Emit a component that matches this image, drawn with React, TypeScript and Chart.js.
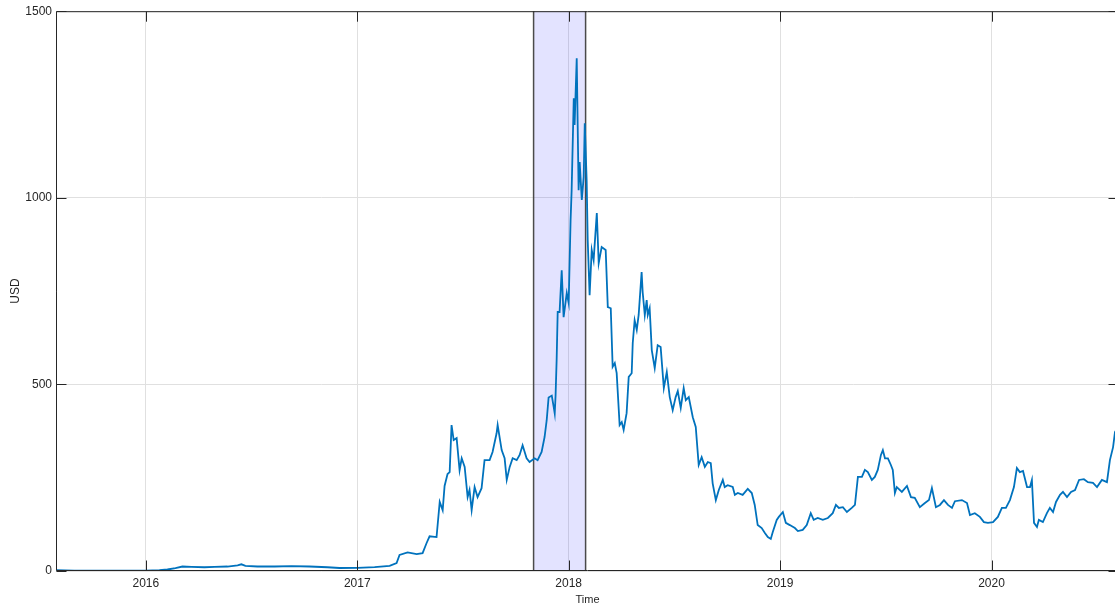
import React, { useEffect, useRef } from "react";
import { Chart, registerables } from "chart.js";

Chart.register(...registerables);

// Time in decimal years, price in USD
const dates: number[] = [
  2015.577, 2015.662, 2015.780, 2015.899, 2015.998, 2016.064, 2016.102, 2016.140, 2016.173, 2016.216,
  2016.277, 2016.325, 2016.386, 2016.434, 2016.452, 2016.471, 2016.528, 2016.609, 2016.689, 2016.774,
  2016.859, 2016.916, 2017.001, 2017.082, 2017.153, 2017.186, 2017.200, 2017.238, 2017.281, 2017.309,
  2017.328, 2017.342, 2017.375, 2017.390, 2017.404, 2017.413, 2017.427, 2017.437, 2017.446, 2017.456,
  2017.470, 2017.484, 2017.494, 2017.508, 2017.522, 2017.531, 2017.541, 2017.555, 2017.569, 2017.588,
  2017.602, 2017.626, 2017.640, 2017.659, 2017.664, 2017.683, 2017.697, 2017.707, 2017.721, 2017.735,
  2017.754, 2017.768, 2017.782, 2017.801, 2017.815, 2017.839, 2017.853, 2017.872, 2017.886, 2017.896,
  2017.905, 2017.920, 2017.929, 2017.934, 2017.938, 2017.943, 2017.948, 2017.957, 2017.967, 2017.976,
  2017.991, 2018.000, 2018.009, 2018.014, 2018.024, 2018.028, 2018.038, 2018.047, 2018.052, 2018.062,
  2018.071, 2018.076, 2018.085, 2018.090, 2018.099, 2018.109, 2018.118, 2018.133, 2018.142, 2018.156,
  2018.175, 2018.185, 2018.199, 2018.208, 2018.218, 2018.227, 2018.241, 2018.251, 2018.260, 2018.274,
  2018.284, 2018.298, 2018.303, 2018.312, 2018.322, 2018.331, 2018.345, 2018.350, 2018.360, 2018.369,
  2018.374, 2018.383, 2018.393, 2018.407, 2018.421, 2018.435, 2018.450, 2018.464, 2018.478, 2018.492,
  2018.506, 2018.516, 2018.530, 2018.544, 2018.554, 2018.568, 2018.587, 2018.601, 2018.615, 2018.629,
  2018.644, 2018.658, 2018.672, 2018.681, 2018.696, 2018.710, 2018.729, 2018.738, 2018.752, 2018.776,
  2018.786, 2018.800, 2018.823, 2018.847, 2018.866, 2018.880, 2018.894, 2018.913, 2018.928, 2018.942,
  2018.956, 2018.965, 2018.984, 2018.994, 2019.013, 2019.027, 2019.046, 2019.070, 2019.084, 2019.107,
  2019.126, 2019.145, 2019.159, 2019.178, 2019.202, 2019.226, 2019.249, 2019.264, 2019.278, 2019.297,
  2019.316, 2019.339, 2019.354, 2019.368, 2019.387, 2019.401, 2019.415, 2019.434, 2019.448, 2019.462,
  2019.477, 2019.486, 2019.496, 2019.510, 2019.524, 2019.533, 2019.543, 2019.552, 2019.576, 2019.600,
  2019.619, 2019.637, 2019.661, 2019.685, 2019.704, 2019.718, 2019.737, 2019.756, 2019.775, 2019.794,
  2019.813, 2019.827, 2019.860, 2019.884, 2019.898, 2019.921, 2019.945, 2019.964, 2019.983, 2020.007,
  2020.030, 2020.049, 2020.068, 2020.087, 2020.106, 2020.120, 2020.134, 2020.149, 2020.168, 2020.182,
  2020.191, 2020.201, 2020.215, 2020.224, 2020.243, 2020.262, 2020.276, 2020.291, 2020.305, 2020.324,
  2020.338, 2020.357, 2020.376, 2020.395, 2020.414, 2020.437, 2020.456, 2020.480, 2020.499, 2020.522,
  2020.546, 2020.560, 2020.575, 2020.584, 2020.598,
];

const usd: number[] = [
  2.5, 1.2, 1.0, 0.9, 0.95, 2, 4, 8, 12, 11,
  10, 11, 12, 15, 18, 14, 12, 12, 13, 12,
  10, 8, 8.5, 10.5, 14, 21, 43, 50, 45, 48,
  75, 93, 91, 185, 163, 228, 260, 265, 391, 351,
  356, 270, 302, 279, 198, 217, 163, 225, 198, 222,
  297, 297, 319, 369, 391, 324, 302, 244, 279, 302,
  297, 311, 337, 302, 292, 302, 297, 319, 359, 404,
  465, 470, 440, 422, 470, 565, 694, 694, 806, 680,
  745, 718, 940, 1020, 1267, 1195, 1374, 1020, 1096, 994,
  1056, 1200, 1047, 887, 739, 860, 833, 959, 825, 868,
  860, 707, 704, 547, 557, 530, 391, 399, 378, 423,
  520, 530, 611, 672, 646, 686, 801, 747, 686, 726,
  686, 704, 592, 544, 605, 600, 490, 533, 466, 431,
  466, 482, 437, 490, 458, 466, 412, 386, 284, 305,
  279, 292, 289, 235, 190, 217, 244, 225, 230, 225,
  204, 209, 204, 220, 209, 177, 123, 115, 102, 91,
  86, 104, 137, 145, 158, 129, 123, 115, 107, 110,
  123, 155, 137, 142, 137, 142, 155, 177, 169, 171,
  158, 169, 177, 252, 252, 271, 265, 244, 252, 271,
  311, 324, 302, 302, 284, 271, 209, 225, 212, 228,
  198, 196, 171, 182, 190, 222, 171, 177, 190, 177,
  169, 187, 190, 182, 150, 155, 145, 131, 129, 131,
  145, 169, 169, 190, 225, 276, 265, 268, 225, 225,
  244, 129, 118, 137, 131, 155, 169, 158, 185, 204,
  212, 198, 212, 217, 244, 246, 238, 236, 225, 244,
  238, 297, 332, 372, 385,
];

const xTickYears: number[] = [2016, 2017, 2018, 2019, 2020];
const yTickValues: number[] = [0, 500, 1000, 1500];
const xRange: number[] = [2015.575, 2020.603];
const yRange: number[] = [0, 1500];
const shadedPeriod: number[] = [2017.834, 2018.080];

const TEXT = "#262626";
const FONT = "'Liberation Sans', Arial, Helvetica, sans-serif";

const framePlugin = {
  id: "matlabFrame",
  beforeDatasetsDraw(chart: any) {
    const { ctx, chartArea: a, scales } = chart;
    const x0 = scales.x.getPixelForValue(shadedPeriod[0]);
    const x1 = scales.x.getPixelForValue(shadedPeriod[1]);
    ctx.save();
    ctx.fillStyle = "rgba(0,0,255,0.11)";
    ctx.fillRect(x0, a.top, x1 - x0, a.bottom - a.top);
    ctx.strokeStyle = "#4a4a4a";
    ctx.lineWidth = 1.5;
    ctx.beginPath();
    ctx.moveTo(x0, a.top);
    ctx.lineTo(x0, a.bottom);
    ctx.moveTo(x1, a.top);
    ctx.lineTo(x1, a.bottom);
    ctx.stroke();
    ctx.restore();
  },
  afterDatasetsDraw(chart: any) {
    const { ctx, chartArea: a, scales } = chart;
    const L = a.left + 0.5, R = a.right - 0.5, T = a.top + 0.5, B = a.bottom - 0.5;
    const tl = 10;
    ctx.save();
    ctx.strokeStyle = TEXT;
    ctx.lineWidth = 1;
    ctx.beginPath();
    ctx.rect(L, T, R - L, B - T);
    xTickYears.forEach((v) => {
      const px = Math.round(scales.x.getPixelForValue(v)) + 0.5;
      ctx.moveTo(px, B);
      ctx.lineTo(px, B - tl);
      ctx.moveTo(px, T);
      ctx.lineTo(px, T + tl);
    });
    yTickValues.forEach((v) => {
      const py = Math.round(scales.y.getPixelForValue(v)) + 0.5;
      ctx.moveTo(L, py);
      ctx.lineTo(L + tl, py);
      ctx.moveTo(R, py);
      ctx.lineTo(R - tl, py);
    });
    ctx.stroke();
    ctx.restore();
  },
};

export default function App() {
  const ref = useRef<HTMLCanvasElement | null>(null);

  useEffect(() => {
    if (!ref.current) return;
    const points = dates.map((d, i) => ({ x: d, y: usd[i] }));
    const chart = new Chart(ref.current, {
      type: "line",
      data: {
        datasets: [
          {
            label: "USD",
            data: points,
            borderColor: "#0072BD",
            borderWidth: 1.8,
            pointRadius: 0,
            tension: 0,
            fill: false,
          },
        ],
      },
      options: {
        animation: false,
        responsive: false,
        devicePixelRatio: 1,
        layout: { padding: { top: 11, right: 6, bottom: 0, left: 0 } },
        plugins: { legend: { display: false }, tooltip: { enabled: false } },
        scales: {
          x: {
            type: "linear",
            min: xRange[0],
            max: xRange[1],
            afterBuildTicks: (scale: any) => {
              scale.ticks = xTickYears.map((v) => ({ value: v }));
            },
            afterFit: (scale: any) => {
              scale.height = 39;
            },
            ticks: {
              color: TEXT,
              font: { family: FONT, size: 12 },
              padding: 5,
              maxRotation: 0,
              autoSkip: false,
              callback: (v: any) => String(v),
            },
            grid: { color: "#e0e0e0", lineWidth: 1, drawTicks: false },
            border: { display: false },
            title: {
              display: true,
              text: "Time",
              color: TEXT,
              font: { family: FONT, size: 11 },
              padding: { top: 0, bottom: 3 },
            },
          },
          y: {
            type: "linear",
            min: yRange[0],
            max: yRange[1],
            afterBuildTicks: (scale: any) => {
              scale.ticks = yTickValues.map((v) => ({ value: v }));
            },
            afterFit: (scale: any) => {
              scale.width = 56;
            },
            ticks: {
              color: TEXT,
              font: { family: FONT, size: 12 },
              padding: 4,
              autoSkip: false,
              callback: (v: any) => String(v),
            },
            grid: { color: "#e0e0e0", lineWidth: 1, drawTicks: false },
            border: { display: false },
            title: {
              display: true,
              text: "USD",
              color: TEXT,
              font: { family: FONT, size: 12 },
              padding: { top: 8, bottom: 0 },
            },
          },
        },
      },
      plugins: [framePlugin],
    });
    return () => chart.destroy();
  }, []);

  return (
    <div
      style={{
        position: "fixed",
        left: 0,
        top: 0,
        width: 1115,
        height: 610,
        overflow: "hidden",
        background: "#ffffff",
      }}
    >
      <canvas ref={ref} width={1125} height={610} style={{ display: "block", width: 1125, height: 610 }} />
    </div>
  );
}
